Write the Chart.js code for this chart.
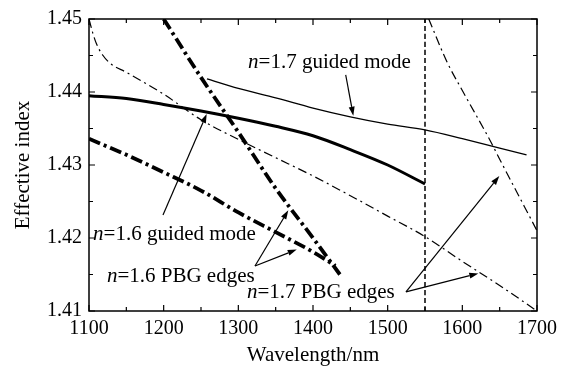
<!DOCTYPE html>
<html>
<head>
<meta charset="utf-8">
<script src="https://cdn.jsdelivr.net/npm/chart.js@4.4.1/dist/chart.umd.min.js"></script>
<style>
  html, body { margin: 0; padding: 0; background: #fff; }
</style>
</head>
<body>
<canvas id="chart" width="567" height="373"></canvas>
<script>
// curves (wavelength in nm, effective index)
const guided16X = [1100, 1150, 1200, 1250, 1300, 1350, 1400, 1450, 1500, 1550];
const guided16Y = [1.4395, 1.4391, 1.4383, 1.4374, 1.4364, 1.4353, 1.4340, 1.4321, 1.4300, 1.4274];

const guided17X = [1258, 1300, 1350, 1400, 1450, 1500, 1550, 1600, 1650, 1686];
const guided17Y = [1.4418, 1.4405, 1.4392, 1.4378, 1.4366, 1.4356, 1.4348, 1.4336, 1.4323, 1.4314];

const pbg16UpperX = [1200, 1250, 1300, 1350, 1400, 1436];
const pbg16UpperY = [1.4500, 1.4420, 1.4345, 1.4268, 1.4200, 1.4150];

const pbg16LowerX = [1100, 1150, 1200, 1250, 1300, 1350, 1400, 1430];
const pbg16LowerY = [1.4336, 1.4314, 1.4290, 1.4265, 1.4235, 1.4208, 1.4181, 1.4162];

const pbg17LowerX = [1100, 1105, 1110, 1118, 1130, 1150, 1200, 1250, 1300, 1350, 1400, 1450, 1500, 1550, 1600, 1650, 1700];
const pbg17LowerY = [1.4500, 1.4481, 1.4466, 1.4451, 1.4438, 1.4427, 1.4397, 1.4362, 1.4335, 1.4310, 1.4285, 1.4258, 1.4230, 1.4202, 1.4168, 1.4135, 1.4100];

const pbg17UpperX = [1555, 1580, 1600, 1637, 1650, 1700];
const pbg17UpperY = [1.4500, 1.4440, 1.4402, 1.4334, 1.4308, 1.4210];

const markerX = [1550, 1550];
const markerY = [1.41, 1.45];

// annotation texts (the leading italic n is drawn separately)
const noteTexts = ['=1.7 guided mode', '=1.6 guided mode', '=1.6 PBG edges', '=1.7 PBG edges'];
const noteX = [1313, 1105.4, 1124, 1311.6];
const noteY = [1.4441, 1.42047, 1.4147, 1.41255];

const arrowFromX = [1443.8, 1199.1, 1322.3, 1322.3, 1524.5, 1524.5];
const arrowFromY = [1.44235, 1.42315, 1.41617, 1.41617, 1.41262, 1.41262];
const arrowToX = [1454, 1257.6, 1366.9, 1378.2, 1649.5, 1621.4];
const arrowToY = [1.43675, 1.43698, 1.42379, 1.41842, 1.42848, 1.41514];

const FONT = '"Liberation Serif", "Times New Roman", serif';

function pts(xs, ys) {
    return xs.map((x, i) => ({ x: x, y: ys[i] }));
}

function line(xs, ys, width, dash) {
    return {
        data: pts(xs, ys),
        borderColor: '#000',
        borderWidth: width,
        borderDash: dash,
        pointRadius: 0,
        fill: false,
        cubicInterpolationMode: 'monotone'
    };
}

// frame with inward ticks on all four sides, plus the text notes and arrows
const decorPlugin = {
    id: 'decor',
    afterDatasetsDraw(chart) {
        const ctx = chart.ctx;
        const a = chart.chartArea;
        const xs = chart.scales.x;
        const ys = chart.scales.y;
        ctx.save();
        ctx.strokeStyle = '#000';
        ctx.lineWidth = 1.5;
        ctx.setLineDash([]);
        ctx.strokeRect(a.left, a.top, a.right - a.left, a.bottom - a.top);

        ctx.lineWidth = 1.2;
        for (let v = 1100; v <= 1700; v += 50) {
            const px = xs.getPixelForValue(v);
            const len = (v % 100 === 0) ? 6 : 4;
            ctx.beginPath();
            ctx.moveTo(px, a.bottom); ctx.lineTo(px, a.bottom - len);
            ctx.moveTo(px, a.top); ctx.lineTo(px, a.top + len);
            ctx.stroke();
        }
        for (let k = 0; k <= 8; k++) {
            const v = 1.41 + k * 0.005;
            const py = ys.getPixelForValue(v);
            const len = (k % 2 === 0) ? 6 : 4;
            ctx.beginPath();
            ctx.moveTo(a.left, py); ctx.lineTo(a.left + len, py);
            ctx.moveTo(a.right, py); ctx.lineTo(a.right - len, py);
            ctx.stroke();
        }

        // arrows
        ctx.lineWidth = 1.2;
        ctx.fillStyle = '#000';
        for (let i = 0; i < arrowFromX.length; i++) {
            const x0 = xs.getPixelForValue(arrowFromX[i]);
            const y0 = ys.getPixelForValue(arrowFromY[i]);
            const x1 = xs.getPixelForValue(arrowToX[i]);
            const y1 = ys.getPixelForValue(arrowToY[i]);
            const ang = Math.atan2(y1 - y0, x1 - x0);
            const hl = 9, hw = 3;
            ctx.beginPath();
            ctx.moveTo(x0, y0);
            ctx.lineTo(x1 - hl * Math.cos(ang), y1 - hl * Math.sin(ang));
            ctx.stroke();
            ctx.beginPath();
            ctx.moveTo(x1, y1);
            ctx.lineTo(x1 - hl * Math.cos(ang) + hw * Math.sin(ang), y1 - hl * Math.sin(ang) - hw * Math.cos(ang));
            ctx.lineTo(x1 - hl * Math.cos(ang) - hw * Math.sin(ang), y1 - hl * Math.sin(ang) + hw * Math.cos(ang));
            ctx.closePath();
            ctx.fill();
        }

        // notes
        ctx.textBaseline = 'middle';
        ctx.textAlign = 'left';
        ctx.fillStyle = '#000';
        for (let i = 0; i < noteTexts.length; i++) {
            const px = xs.getPixelForValue(noteX[i]);
            const py = ys.getPixelForValue(noteY[i]);
            ctx.font = 'italic 21px ' + FONT;
            const wn = ctx.measureText('n').width;
            ctx.fillText('n', px, py);
            ctx.font = '21px ' + FONT;
            ctx.fillText(noteTexts[i], px + wn, py);
        }
        ctx.restore();
    }
};

new Chart(document.getElementById('chart').getContext('2d'), {
    type: 'line',
    data: {
        datasets: [
            line(guided16X, guided16Y, 3, []),
            line(guided17X, guided17Y, 1.3, []),
            line(pbg16UpperX, pbg16UpperY, 3.8, [12, 4, 3, 4]),
            line(pbg16LowerX, pbg16LowerY, 3.8, [12, 4, 3, 4]),
            line(pbg17LowerX, pbg17LowerY, 1.2, [9, 4, 2, 4]),
            line(pbg17UpperX, pbg17UpperY, 1.2, [9, 4, 2, 4]),
            line(markerX, markerY, 1.5, [5, 3])
        ]
    },
    options: {
        responsive: false,
        animation: false,
        layout: { padding: { left: 0, right: 30, top: 13, bottom: 0 } },
        plugins: { legend: { display: false }, tooltip: { enabled: false } },
        scales: {
            x: {
                type: 'linear',
                min: 1100,
                max: 1700,
                afterFit: (scale) => { scale.height = 62; },
                grid: { display: false, drawTicks: false },
                border: { display: false },
                ticks: {
                    stepSize: 100,
                    padding: 6,
                    color: '#000',
                    font: { family: FONT, size: 20 },
                    maxRotation: 0,
                    callback: (v) => String(v)
                },
                title: {
                    display: true,
                    text: 'Wavelength/nm',
                    color: '#000',
                    font: { family: FONT, size: 21 },
                    padding: { top: 0, bottom: 5 }
                }
            },
            y: {
                min: 1.41,
                max: 1.45,
                afterFit: (scale) => { scale.width = 89; },
                grid: { display: false, drawTicks: false },
                border: { display: false },
                ticks: {
                    stepSize: 0.01,
                    padding: 7,
                    color: '#000',
                    font: { family: FONT, size: 20 },
                    callback: (v) => v.toFixed(2)
                },
                title: {
                    display: true,
                    text: 'Effective index',
                    color: '#000',
                    font: { family: FONT, size: 21 },
                    padding: { top: 11, bottom: 0 }
                }
            }
        }
    },
    plugins: [decorPlugin]
});
</script>
</body>
</html>
